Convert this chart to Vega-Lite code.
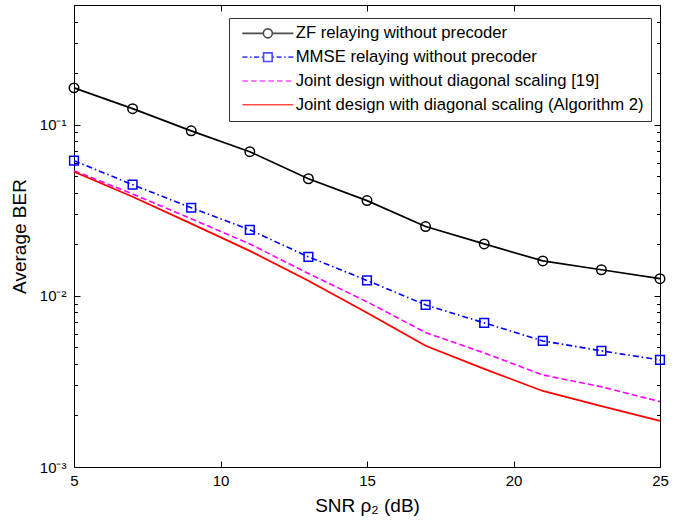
{
  "$schema": "https://vega.github.io/schema/vega-lite/v6.json",
  "width": 586,
  "height": 462,
  "autosize": "none",
  "padding": {"left": 74, "top": 5, "right": 26, "bottom": 55},
  "background": "white",
  "data": {"values": [
    {"snr": 5, "ber": 0.164, "series": "ZF relaying without precoder"},
    {"snr": 7, "ber": 0.124, "series": "ZF relaying without precoder"},
    {"snr": 9, "ber": 0.092, "series": "ZF relaying without precoder"},
    {"snr": 11, "ber": 0.0695, "series": "ZF relaying without precoder"},
    {"snr": 13, "ber": 0.0483, "series": "ZF relaying without precoder"},
    {"snr": 15, "ber": 0.036, "series": "ZF relaying without precoder"},
    {"snr": 17, "ber": 0.0254, "series": "ZF relaying without precoder"},
    {"snr": 19, "ber": 0.0201, "series": "ZF relaying without precoder"},
    {"snr": 21, "ber": 0.016, "series": "ZF relaying without precoder"},
    {"snr": 23, "ber": 0.0142, "series": "ZF relaying without precoder"},
    {"snr": 25, "ber": 0.0126, "series": "ZF relaying without precoder"},
    {"snr": 5, "ber": 0.0616, "series": "MMSE relaying without precoder"},
    {"snr": 7, "ber": 0.0446, "series": "MMSE relaying without precoder"},
    {"snr": 9, "ber": 0.0327, "series": "MMSE relaying without precoder"},
    {"snr": 11, "ber": 0.0243, "series": "MMSE relaying without precoder"},
    {"snr": 13, "ber": 0.0169, "series": "MMSE relaying without precoder"},
    {"snr": 15, "ber": 0.0123, "series": "MMSE relaying without precoder"},
    {"snr": 17, "ber": 0.00885, "series": "MMSE relaying without precoder"},
    {"snr": 19, "ber": 0.00695, "series": "MMSE relaying without precoder"},
    {"snr": 21, "ber": 0.00545, "series": "MMSE relaying without precoder"},
    {"snr": 23, "ber": 0.00477, "series": "MMSE relaying without precoder"},
    {"snr": 25, "ber": 0.00422, "series": "MMSE relaying without precoder"},
    {"snr": 5, "ber": 0.0538, "series": "Joint design without diagonal scaling [19]"},
    {"snr": 7, "ber": 0.0394, "series": "Joint design without diagonal scaling [19]"},
    {"snr": 9, "ber": 0.0282, "series": "Joint design without diagonal scaling [19]"},
    {"snr": 11, "ber": 0.0201, "series": "Joint design without diagonal scaling [19]"},
    {"snr": 13, "ber": 0.0135, "series": "Joint design without diagonal scaling [19]"},
    {"snr": 15, "ber": 0.00923, "series": "Joint design without diagonal scaling [19]"},
    {"snr": 17, "ber": 0.0061, "series": "Joint design without diagonal scaling [19]"},
    {"snr": 19, "ber": 0.00464, "series": "Joint design without diagonal scaling [19]"},
    {"snr": 21, "ber": 0.00345, "series": "Joint design without diagonal scaling [19]"},
    {"snr": 23, "ber": 0.00294, "series": "Joint design without diagonal scaling [19]"},
    {"snr": 25, "ber": 0.00241, "series": "Joint design without diagonal scaling [19]"},
    {"snr": 5, "ber": 0.0531, "series": "Joint design with diagonal scaling (Algorithm 2)"},
    {"snr": 7, "ber": 0.0379, "series": "Joint design with diagonal scaling (Algorithm 2)"},
    {"snr": 9, "ber": 0.0264, "series": "Joint design with diagonal scaling (Algorithm 2)"},
    {"snr": 11, "ber": 0.0183, "series": "Joint design with diagonal scaling (Algorithm 2)"},
    {"snr": 13, "ber": 0.01225, "series": "Joint design with diagonal scaling (Algorithm 2)"},
    {"snr": 15, "ber": 0.00796, "series": "Joint design with diagonal scaling (Algorithm 2)"},
    {"snr": 17, "ber": 0.00511, "series": "Joint design with diagonal scaling (Algorithm 2)"},
    {"snr": 19, "ber": 0.00374, "series": "Joint design with diagonal scaling (Algorithm 2)"},
    {"snr": 21, "ber": 0.00278, "series": "Joint design with diagonal scaling (Algorithm 2)"},
    {"snr": 23, "ber": 0.00227, "series": "Joint design with diagonal scaling (Algorithm 2)"},
    {"snr": 25, "ber": 0.00186, "series": "Joint design with diagonal scaling (Algorithm 2)"}
  ]},
  "encoding": {
    "x": {"field": "snr", "type": "quantitative", "scale": {"domain": [5, 25], "nice": false, "zero": false}, "axis": null},
    "y": {"field": "ber", "type": "quantitative", "scale": {"type": "log", "domain": [0.001, 0.5], "nice": false}, "axis": null}
  },
  "layer": [
    {
      "transform": [{"filter": "datum.series == 'ZF relaying without precoder'"}],
      "mark": {"type": "line", "strokeWidth": 1.7, "color": "#000000"},
      "encoding": {
        "x": {"field": "snr", "type": "quantitative",
          "scale": {"domain": [5, 25], "nice": false, "zero": false},
          "axis": {"orient": "bottom", "values": [5, 10, 15, 20, 25], "title": "SNR ρ₂ (dB)",
            "tickSize": -6, "labelPadding": 12.5, "labelFontSize": 15, "titleFontSize": 19,
            "titlePadding": 8, "labelFlush": false, "labelOverlap": false, "labelBound": false}},
        "y": {"field": "ber", "type": "quantitative",
          "scale": {"type": "log", "domain": [0.001, 0.5], "nice": false},
          "axis": {"orient": "left",
            "values": [0.001, 0.002, 0.003, 0.004, 0.005, 0.006, 0.007, 0.008, 0.009, 0.01, 0.02, 0.03, 0.04, 0.05, 0.06, 0.07, 0.08, 0.09, 0.1, 0.2, 0.3, 0.4, 0.5],
            "labelExpr": "datum.value == 0.001 ? '10⁻³' : datum.value == 0.01 ? '10⁻²' : datum.value == 0.1 ? '10⁻¹' : ''",
            "tickSize": {"condition": {"test": "datum.value == 0.001 || datum.value == 0.01 || datum.value == 0.1", "value": -6}, "value": -3.5},
            "labelPadding": 14, "labelFontSize": 15, "title": "Average BER", "titleFontSize": 19,
            "titlePadding": 10, "labelOverlap": false, "labelBound": false}}
      }
    },
    {
      "transform": [{"filter": "datum.series == 'ZF relaying without precoder'"}],
      "mark": {"type": "point", "shape": "circle", "filled": false, "color": "#000000", "size": 90, "strokeWidth": 1.5, "opacity": 1},
      "encoding": {
        "x": {"field": "snr", "type": "quantitative",
          "scale": {"domain": [5, 25], "nice": false, "zero": false},
          "axis": {"orient": "top", "values": [5, 10, 15, 20, 25], "title": null, "labels": false, "tickSize": -6}},
        "y": {"field": "ber", "type": "quantitative",
          "scale": {"type": "log", "domain": [0.001, 0.5], "nice": false},
          "axis": {"orient": "right",
            "values": [0.001, 0.002, 0.003, 0.004, 0.005, 0.006, 0.007, 0.008, 0.009, 0.01, 0.02, 0.03, 0.04, 0.05, 0.06, 0.07, 0.08, 0.09, 0.1, 0.2, 0.3, 0.4, 0.5],
            "labels": false, "title": null,
            "tickSize": {"condition": {"test": "datum.value == 0.001 || datum.value == 0.01 || datum.value == 0.1", "value": -6}, "value": -3.5}}}
      }
    },
    {
      "transform": [{"filter": "datum.series == 'MMSE relaying without precoder'"}],
      "mark": {"type": "line", "strokeWidth": 1.6, "color": "#0000ff", "strokeDash": [6, 3, 1.5, 3]}
    },
    {
      "transform": [{"filter": "datum.series == 'MMSE relaying without precoder'"}],
      "mark": {"type": "point", "shape": "square", "filled": false, "color": "#0000ff", "size": 76, "strokeWidth": 1.5, "opacity": 1}
    },
    {
      "transform": [{"filter": "datum.series == 'Joint design without diagonal scaling [19]'"}],
      "mark": {"type": "line", "strokeWidth": 1.6, "color": "#ff00ff", "strokeDash": [6, 3]}
    },
    {
      "transform": [{"filter": "datum.series == 'Joint design with diagonal scaling (Algorithm 2)'"}],
      "mark": {"type": "line", "strokeWidth": 1.8, "color": "#ff0000"}
    },
    {
      "mark": {"type": "point", "filled": false, "strokeOpacity": 0, "strokeWidth": 1.6},
      "encoding": {
        "color": {"field": "series", "type": "nominal",
          "scale": {"domain": ["ZF relaying without precoder", "MMSE relaying without precoder", "Joint design without diagonal scaling [19]", "Joint design with diagonal scaling (Algorithm 2)"],
            "range": ["#000000", "#0000ff", "#ff00ff", "#ff0000"]},
          "legend": {"title": null, "orient": "none", "legendX": 155, "legendY": 13,
            "symbolSize": 100, "symbolStrokeWidth": 1.6, "symbolFillColor": "transparent",
            "labelFont": "Liberation Sans", "labelFontSize": 16.7, "labelColor": "#000", "labelLimit": 500, "labelOffset": 43,
            "rowPadding": 5.8, "padding": 7, "strokeColor": "#333333", "fillColor": "#ffffff",
            "encode": {"symbols": {"update": {"opacity": {"value": 1}, "strokeOpacity": {"value": 1}}}}}},
        "shape": {"field": "series", "type": "nominal",
          "scale": {"domain": ["ZF relaying without precoder", "MMSE relaying without precoder", "Joint design without diagonal scaling [19]", "Joint design with diagonal scaling (Algorithm 2)"],
            "range": [
              "M-0.4,0H3.8M5.6,0H9.8M5.6,0A0.9,0.9 0 1,1 3.8,0A0.9,0.9 0 1,1 5.6,0",
              "M-0.4,0H0.62M1.13,0H1.44M1.95,0H2.97M3.48,0H3.78M5.62,0H5.92M6.43,0H7.45M7.96,0H8.27M8.78,0H9.8M3.84,-0.86H5.56V0.86H3.84Z",
              "M-0.4,0H0.72M1.33,0H2.46M3.07,0H4.19M4.8,0H5.92M6.54,0H7.66M8.27,0H9.39",
              "M-0.4,0H9.8"]},
          "legend": {"title": null, "orient": "none", "legendX": 155, "legendY": 13,
            "symbolSize": 100, "symbolStrokeWidth": 1.6, "symbolFillColor": "transparent",
            "labelFont": "Liberation Sans", "labelFontSize": 16.7, "labelColor": "#000", "labelLimit": 500, "labelOffset": 43,
            "rowPadding": 5.8, "padding": 7, "strokeColor": "#333333", "fillColor": "#ffffff",
            "encode": {"symbols": {"update": {"opacity": {"value": 1}, "strokeOpacity": {"value": 1}}}}}}
      }
    }
  ],
  "resolve": {"axis": {"x": "independent", "y": "independent"}},
  "config": {
    "view": {"stroke": "#000000", "strokeWidth": 1},
    "axis": {"grid": false, "domain": false, "tickColor": "#000000", "tickWidth": 1,
      "labelColor": "#000000", "titleColor": "#000000",
      "labelFont": "Liberation Sans", "titleFont": "Liberation Sans", "titleFontWeight": "normal"},
    "legend": {"labelFont": "Liberation Sans"}
  }
}
